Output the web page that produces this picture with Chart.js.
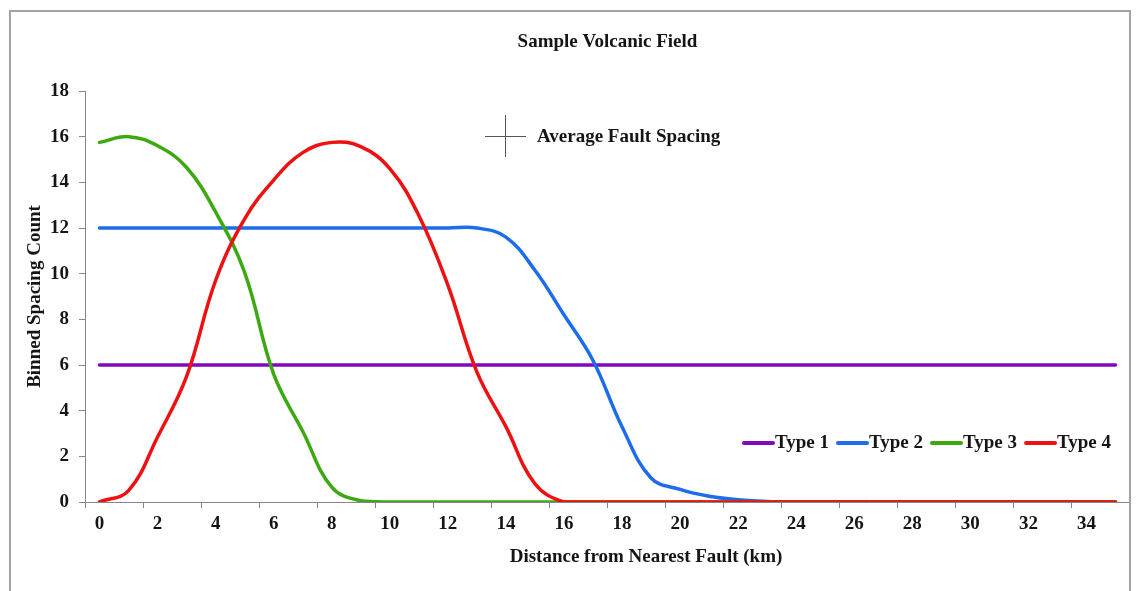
<!DOCTYPE html>
<html lang="en">
  <head>
    <meta charset="UTF-8" />
    <title>Sample Volcanic Field</title>
    <style>
      html,
      body {
        margin: 0;
        padding: 0;
        background: #fff;
        overflow: hidden;
      }
      #wrap {
        position: relative;
        width: 1148px;
        height: 591px;
      }
    </style>
  </head>
  <body>
    <div id="wrap"><canvas id="spacingChart"></canvas></div>

    <script src="https://cdn.jsdelivr.net/npm/chart.js"></script>
    <script>
      // distance bins (km)
      const distances = [
        0, 1, 2, 3, 4, 5, 6, 7, 8, 9, 10, 11, 12, 13, 14, 15, 16, 17,
        18, 19, 20, 21, 22, 23, 24, 25, 26, 27, 28, 29, 30, 31, 32, 33, 34, 35,
      ];

      const type1 = [
        6, 6, 6, 6, 6, 6, 6, 6, 6, 6, 6, 6, 6, 6, 6, 6, 6, 6,
        6, 6, 6, 6, 6, 6, 6, 6, 6, 6, 6, 6, 6, 6, 6, 6, 6, 6,
      ];
      const type2 = [
        12, 12, 12, 12, 12, 12, 12, 12, 12, 12, 12, 12, 12, 12.0, 11.6, 10.15, 8.2, 6.2,
        3.3, 1.05, 0.55, 0.25, 0.1, 0.02, 0, 0, 0, 0, 0, 0, 0, 0, 0, 0, 0, 0,
      ];
      const type3 = [
        15.75, 16.0, 15.6, 14.65, 12.7, 10.05, 5.6, 3.1, 0.65, 0.05, 0, 0, 0, 0, 0, 0, 0, 0,
        0, 0, 0, 0, 0, 0, 0, 0, 0, 0, 0, 0, 0, 0, 0, 0, 0, 0,
      ];
      const type4 = [
        0, 0.5, 2.85, 5.5, 9.7, 12.4, 14.1, 15.3, 15.75, 15.56, 14.6, 12.55, 9.5, 5.7, 3.3, 0.8, 0, 0,
        0, 0, 0, 0, 0, 0, 0, 0, 0, 0, 0, 0, 0, 0, 0, 0, 0, 0,
      ];

      const yTicks = [0, 2, 4, 6, 8, 10, 12, 14, 16, 18];

      const serif = "'Liberation Serif', 'Times New Roman', serif";
      const textColor = '#151515';
      const axisGrey = '#868686';

      const series = [
        { label: 'Type 1', data: type1, color: '#8008bd' },
        { label: 'Type 2', data: type2, color: '#1c6cec' },
        { label: 'Type 3', data: type3, color: '#3ca912' },
        { label: 'Type 4', data: type4, color: '#ee1111' },
      ];

      // legends, frame and x title drawn on top of the chart
      const overlay = {
        id: 'overlay',
        afterDraw(chart) {
          const ctx = chart.ctx;
          ctx.save();

          // outer frame
          ctx.strokeStyle = '#a4a4a4';
          ctx.lineWidth = 2;
          ctx.beginPath();
          ctx.moveTo(10, 600);
          ctx.lineTo(10, 11);
          ctx.lineTo(1130, 11);
          ctx.lineTo(1130, 600);
          ctx.stroke();

          ctx.font = 'bold 19px ' + serif;
          ctx.fillStyle = textColor;
          ctx.textBaseline = 'middle';

          // x axis title
          ctx.textAlign = 'center';
          ctx.fillText('Distance from Nearest Fault (km)', 646, 557);

          // average fault spacing marker
          ctx.strokeStyle = '#555';
          ctx.lineWidth = 1;
          ctx.beginPath();
          ctx.moveTo(485, 136.5);
          ctx.lineTo(526, 136.5);
          ctx.moveTo(505.5, 115);
          ctx.lineTo(505.5, 157);
          ctx.stroke();
          ctx.textAlign = 'left';
          ctx.fillText('Average Fault Spacing', 537, 137);

          // series legend
          let x = 743;
          const y = 443;
          chart.data.datasets.forEach((ds) => {
            ctx.strokeStyle = ds.borderColor;
            ctx.lineWidth = 4;
            ctx.lineCap = 'round';
            ctx.beginPath();
            ctx.moveTo(x + 1, y);
            ctx.lineTo(x + 30, y);
            ctx.stroke();
            x += 32;
            ctx.fillText(ds.label, x, y);
            x += ctx.measureText(ds.label).width + 8;
          });

          ctx.restore();
        },
      };

      new Chart(document.getElementById('spacingChart'), {
        type: 'line',
        data: {
          labels: distances,
          datasets: series.map((s, i) => ({
            label: s.label,
            data: s.data,
            borderColor: s.color,
            backgroundColor: s.color,
            borderWidth: 3.5,
            borderCapStyle: 'round',
            borderJoinStyle: 'round',
            pointRadius: 0,
            tension: 0.4,
            fill: false,
            order: series.length - i,
          })),
        },
        options: {
          responsive: true,
          maintainAspectRatio: false,
          animation: false,
          devicePixelRatio: 1,
          layout: { padding: { left: 0, right: 18, top: 0, bottom: 0 } },
          plugins: {
            legend: { display: false },
            tooltip: { enabled: false },
            title: {
              display: true,
              text: 'Sample Volcanic Field',
              fullSize: false,
              color: textColor,
              font: { family: serif, size: 19, weight: 'bold' },
              padding: { top: 30.6, bottom: 37.6 },
            },
          },
          scales: {
            x: {
              type: 'category',
              offset: true,
              grid: {
                offset: true,
                drawOnChartArea: false,
                tickLength: 6,
                color: (c) => (c.index % 2 === 0 ? axisGrey : 'rgba(0,0,0,0)'),
              },
              border: { color: axisGrey, width: 1 },
              ticks: {
                autoSkip: false,
                maxRotation: 0,
                padding: 5,
                color: textColor,
                font: { family: serif, size: 19, weight: 'bold' },
                callback: function (value, index) {
                  return index % 2 === 0 ? String(this.getLabelForValue(value)) : '';
                },
              },
              afterFit: (scale) => {
                scale.height = 89;
              },
            },
            y: {
              min: yTicks[0],
              max: yTicks[yTicks.length - 1],
              afterBuildTicks: (scale) => {
                scale.ticks = yTicks.map((v) => ({ value: v }));
              },
              grid: { drawOnChartArea: false, tickLength: 6, color: axisGrey },
              border: { color: axisGrey, width: 1 },
              ticks: {
                padding: 10,
                color: textColor,
                font: { family: serif, size: 19, weight: 'bold' },
              },
              title: {
                display: true,
                text: 'Binned Spacing Count',
                color: textColor,
                font: { family: serif, size: 19, weight: 'bold' },
                padding: { top: 23.6, bottom: 0 },
              },
              afterFit: (scale) => {
                scale.width = 85;
              },
            },
          },
        },
        plugins: [overlay],
      });
    </script>
  </body>
</html>
